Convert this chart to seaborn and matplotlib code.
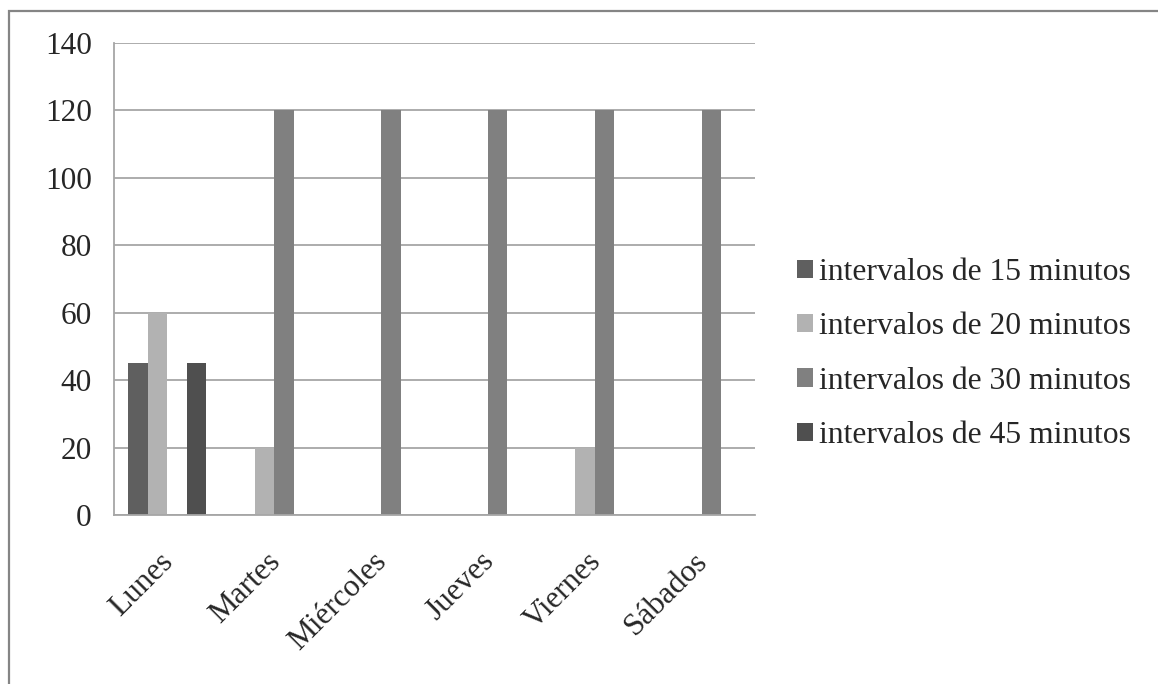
import matplotlib
matplotlib.use("Agg")
import matplotlib.pyplot as plt
from matplotlib.patches import Rectangle, Patch
import seaborn as sns
import pandas as pd

dias = ["Lunes", "Martes", "Miércoles", "Jueves", "Viernes", "Sábados"]
series = ["intervalos de 15 minutos", "intervalos de 20 minutos",
          "intervalos de 30 minutos", "intervalos de 45 minutos"]
int_15 = [45, 0, 0, 0, 0, 0]
int_20 = [60, 20, 0, 0, 20, 0]
int_30 = [0, 120, 120, 120, 120, 120]
int_45 = [45, 0, 0, 0, 0, 0]
colores = ["#5f5f5f", "#b2b2b2", "#808080", "#4f4f4f"]

rows = []
for nombre, valores in zip(series, [int_15, int_20, int_30, int_45]):
    for d, v in zip(dias, valores):
        rows.append({"dia": d, "serie": nombre, "valor": v})
df = pd.DataFrame(rows)

sns.set_style("white")
plt.rcParams["font.family"] = ["Liberation Serif", "DejaVu Serif"]

fig = plt.figure(figsize=(11.58, 6.84), dpi=100)
ax = fig.add_axes([114 / 1158, 1 - 515 / 684, (755 - 114) / 1158, (515 - 43) / 684])

sns.barplot(data=df, x="dia", y="valor", hue="serie", order=dias,
            hue_order=series, palette=colores, width=0.73, dodge=True,
            saturation=1, linewidth=0, ax=ax, legend=False)

grid_c = "#a6a6a6"
ax.set_ylim(0, 140)
ax.set_xlim(-0.5, len(dias) - 0.5)
ax.set_yticks(range(0, 141, 20))
ax.yaxis.grid(True, color=grid_c, linewidth=1.3)
ax.set_axisbelow(True)
ax.set_xlabel("")
ax.set_ylabel("")

for s in ["top", "right"]:
    ax.spines[s].set_visible(False)
for s in ["left", "bottom"]:
    ax.spines[s].set_color(grid_c)
    ax.spines[s].set_linewidth(1.3)

# tick marks at category boundaries; rotated labels sit just left of centre
ax.set_xticks([i - 0.5 for i in range(len(dias) + 1)])
ax.set_xticklabels([])
ax.set_xticks([i - 0.08 for i in range(len(dias))], minor=True)
ax.set_xticklabels(dias, minor=True, rotation=45, ha="right",
                   rotation_mode="anchor", fontsize=22.5)
ax.tick_params(axis="x", which="major", direction="out", length=8,
               color=grid_c, width=1.3)
ax.tick_params(axis="x", which="minor", length=0, pad=23)
ax.tick_params(axis="y", direction="out", length=7, color=grid_c,
               width=1.3, labelsize=22.5, pad=9)

handles = [Patch(facecolor=c, edgecolor="none") for c in colores]
fig.legend(handles, series, loc="center left",
           bbox_to_anchor=(797 / 1158, 1 - 354 / 684),
           bbox_transform=fig.transFigure, frameon=False, fontsize=22.8,
           handlelength=0.52, handleheight=0.52, handletextpad=0.16,
           labelspacing=0.8, borderpad=0, borderaxespad=0)

# outer frame of the chart area
fig.patches.append(Rectangle((9 / 1158, -0.1), 1.2, 1 - 11 / 684 + 0.1,
                             transform=fig.transFigure, fill=False,
                             edgecolor="#858585", linewidth=1.6))

fig.savefig("out.png", dpi=100)
